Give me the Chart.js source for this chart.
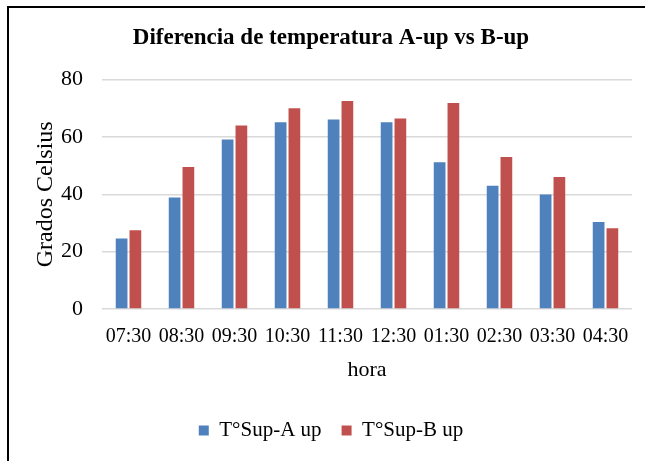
<!DOCTYPE html>
<html>
<head>
<meta charset="utf-8">
<script src="https://cdn.jsdelivr.net/npm/chart.js@4"></script>
<style>
  html, body { margin: 0; padding: 0; background: #fff; }
  #wrap { position: absolute; left: 0; top: 0; width: 645px; height: 461px; }
  #frame { position: absolute; left: 7px; top: 6px; width: 700px; height: 500px;
           border-top: 2px solid #000; border-left: 2px solid #000; pointer-events: none; }
</style>
</head>
<body>
<div id="wrap"><canvas id="c"></canvas></div>
<div id="frame"></div>
<script>
const categories = ["07:30","08:30","09:30","10:30","11:30","12:30","01:30","02:30","03:30","04:30"];
const seriesA = [24.6, 38.9, 59.1, 65.1, 66.1, 65.1, 51.2, 43.0, 39.9, 30.3];
const seriesB = [27.5, 49.5, 64.0, 70.0, 72.5, 66.4, 71.8, 53.0, 46.0, 28.2];
const seriesNames = ["T°Sup-A up", "T°Sup-B up"];
const yTicks = [0, 20, 40, 60, 80];
const titleText = "Diferencia de temperatura A-up vs B-up";
const xTitle = "hora";
const yTitle = "Grados Celsius";

const FONT = "'Liberation Serif', 'Times New Roman', serif";

new Chart(document.getElementById('c'), {
  type: 'bar',
  data: {
    labels: categories,
    datasets: [
      { label: seriesNames[0], data: seriesA, backgroundColor: '#4f81bd', borderWidth: 0,
        categoryPercentage: 0.52, barPercentage: 0.85 },
      { label: seriesNames[1], data: seriesB, backgroundColor: '#c0504d', borderWidth: 0,
        categoryPercentage: 0.52, barPercentage: 0.85 }
    ]
  },
  options: {
    responsive: true,
    maintainAspectRatio: false,
    animation: false,
    layout: { padding: { left: 30, right: 13, top: 0, bottom: 10 } },
    plugins: {
      title: {
        display: true, text: titleText, color: '#000',
        font: { family: FONT, size: 23, weight: 'bold' },
        padding: { top: 24, bottom: 28 }
      },
      legend: {
        position: 'bottom',
        labels: {
          color: '#000', boxWidth: 10, boxHeight: 10, padding: 20,
          font: { family: FONT, size: 21 }
        }
      },
      tooltip: { enabled: false }
    },
    scales: {
      x: {
        grid: { display: false, drawTicks: false },
        border: { display: false },
        ticks: { color: '#000', padding: 16, maxRotation: 0, autoSkip: false,
                 font: { family: FONT, size: 20 } },
        title: { display: true, text: xTitle, color: '#000',
                 font: { family: FONT, size: 22 }, padding: { top: 0, bottom: 17 } },
        afterFit(scale) { scale.height = 91; }
      },
      y: {
        min: 0, max: 80,
        afterBuildTicks(scale) { scale.ticks = yTicks.map(v => ({ value: v })); },
        grid: { color: '#d9d9d9', lineWidth: 1.5, drawTicks: false },
        border: { display: false },
        ticks: { color: '#000', padding: 19, font: { family: FONT, size: 22 } },
        title: { display: true, text: yTitle, color: '#000',
                 font: { family: FONT, size: 24 }, padding: { top: 1, bottom: 0 } },
        afterFit(scale) { scale.width = 72; }
      }
    }
  }
});
</script>
</body>
</html>
